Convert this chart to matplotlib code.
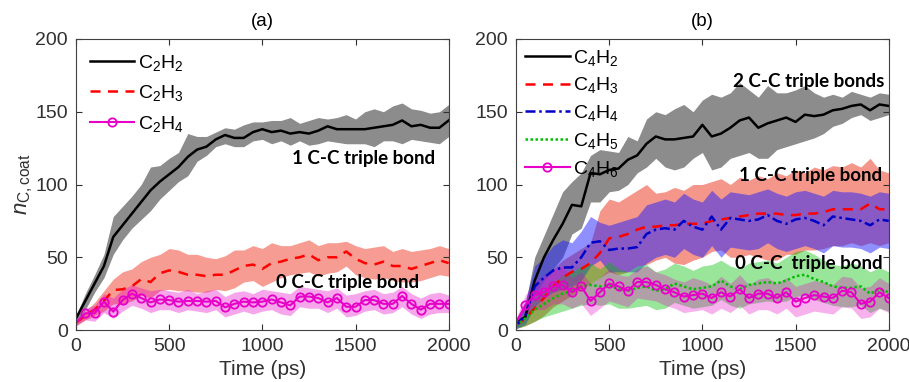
import numpy as np
import matplotlib
matplotlib.use("Agg")
from matplotlib import pyplot as plt

plt.rcParams['font.family'] = ['Liberation Sans', 'DejaVu Sans']
plt.rcParams['mathtext.fontset'] = 'custom'
plt.rcParams['mathtext.rm'] = 'Liberation Sans'
plt.rcParams['mathtext.it'] = 'Liberation Sans:italic'

time_ps = np.arange(0, 2001, 50)

# panel (a)
c2h2_mean = [8, 20, 32, 44, 64, 72, 80, 88, 96, 102, 107, 112, 119, 124, 126, 131, 134, 132, 132, 136,
             138, 136, 137, 135, 136, 135, 137, 140, 138, 138, 138, 138, 139, 140, 141, 144, 140, 141, 139, 139, 144]
c2h2_hi = [10, 25, 38, 52, 78, 85, 92, 100, 112, 113, 118, 122, 135, 133, 133, 136, 139, 138, 141, 143,
           143, 144, 144, 146, 142, 144, 146, 145, 146, 148, 145, 150, 152, 150, 154, 156, 152, 151, 149, 150, 155]
c2h2_lo = [4, 14, 26, 36, 52, 62, 70, 76, 82, 90, 96, 102, 106, 116, 120, 126, 128, 126, 126, 130,
           131, 128, 130, 127, 130, 127, 128, 130, 129, 128, 128, 128, 126, 130, 130, 128, 131, 130, 129, 128, 133]

c2h3_mean = [5, 10, 14, 20, 27.5, 28, 30, 35, 33, 39, 41, 40, 38, 38, 37, 38, 38, 41, 44, 45,
             42, 46, 47, 49, 50, 52, 48, 50, 50, 54, 49, 46, 45, 47, 44, 44, 42, 44, 46, 48, 46]
c2h3_hi = [7, 13, 19, 27, 35, 40, 42, 47, 50, 52, 56, 55, 52, 52, 50, 49, 51, 55, 55, 58,
           56, 60, 58, 58, 60, 62, 58, 60, 60, 61, 58, 56, 57, 58, 54, 56, 54, 55, 56, 58, 56]
c2h3_lo = [3, 7, 10, 13, 18, 18, 20, 24, 22, 27, 28, 27, 27, 26, 26, 28, 27, 29, 33, 34,
           30, 33, 36, 38, 39, 40, 37, 39, 40, 44, 38, 36, 35, 36, 34, 33, 33, 34, 36, 38, 37]

c2h4_mean = [5, 11.5, 11.5, 19.5, 12.6, 20.6, 25, 22, 19, 21, 20.6, 19.5, 20, 20, 19.5, 20, 15.6, 18, 19.5, 19,
             19.5, 21, 19, 17, 23, 23, 22, 19, 22, 16, 16, 20.6, 20.6, 18, 18, 23.4, 18, 14, 18, 18, 18]
c2h4_hi = [7, 15, 17, 25, 22, 28, 31, 29, 27, 28, 27, 26, 28, 25, 27, 28, 23, 26, 27, 25,
           28, 27, 26, 25, 30, 29, 28, 27, 29, 24, 25, 27, 28, 25, 26, 30, 25, 22, 25, 26, 24]
c2h4_lo = [3, 7, 6, 12, 8, 13, 17, 15, 12, 14, 14, 12, 14, 13, 12, 14, 9, 11, 13, 11,
           13, 14, 11, 10, 16, 15, 15, 12, 15, 9, 10, 13, 14, 11, 12, 16, 11, 8, 11, 12, 12]

# panel (b)
c4h2_mean = [5, 9, 34, 50, 62, 73, 86, 85, 108, 107, 110, 111, 117, 120, 128, 133, 131, 131, 132, 133,
             141, 133, 135, 139, 144, 146, 139, 142, 144, 146, 143, 148, 147, 148, 151, 152, 154, 155, 151, 155, 154]
c4h2_hi = [8, 18, 50, 65, 80, 95, 102, 108, 120, 124, 123, 122, 133, 130, 145, 150, 148, 152, 155, 150,
           158, 162, 160, 163, 170, 165, 160, 168, 163, 163, 165, 168, 163, 160, 162, 160, 164, 162, 160, 163, 162]
c4h2_lo = [3, 5, 20, 30, 42, 50, 66, 70, 88, 88, 95, 96, 100, 108, 112, 118, 112, 110, 112, 118,
           122, 110, 112, 118, 120, 122, 118, 118, 124, 126, 128, 130, 132, 135, 140, 142, 146, 148, 144, 146, 148]

c4h3_mean = [3, 8, 15, 22, 30, 36, 40, 42, 46, 53, 63, 64, 66, 69, 71, 71, 72, 72, 73, 73,
             73, 75, 76, 77, 78, 79, 80, 80, 80, 79, 79, 80, 80, 81, 83, 83, 83, 83, 87, 83, 83]
c4h3_hi = [6, 14, 24, 34, 42, 48, 52, 56, 60, 82, 90, 88, 92, 96, 100, 94, 95, 98, 96, 100,
           100, 102, 104, 100, 105, 103, 106, 104, 108, 106, 110, 108, 112, 110, 113, 112, 115, 112, 118, 110, 108]
c4h3_lo = [1, 3, 6, 10, 16, 20, 24, 28, 32, 36, 40, 38, 40, 44, 45, 48, 50, 46, 45, 48,
           50, 54, 55, 50, 50, 52, 50, 48, 48, 52, 52, 55, 55, 56, 58, 58, 60, 58, 60, 58, 60]

c4h4_mean = [3, 10, 30, 36, 41, 43, 43, 50, 60, 61, 55, 56, 56, 57, 66, 69, 70, 69, 75, 71,
             69, 78, 69, 77, 76, 75, 76, 79, 75, 73, 76, 77, 75, 72, 78, 77, 76, 75, 72, 76, 75]
c4h4_hi = [6, 20, 44, 50, 58, 62, 60, 68, 78, 74, 72, 74, 76, 78, 86, 88, 90, 88, 94, 90,
           88, 96, 90, 95, 94, 93, 95, 97, 94, 92, 95, 96, 94, 92, 96, 95, 95, 94, 92, 95, 94]
c4h4_lo = [1, 4, 16, 22, 26, 28, 30, 34, 44, 48, 40, 40, 40, 40, 46, 50, 52, 50, 56, 52,
           50, 58, 50, 57, 56, 55, 56, 60, 56, 54, 56, 58, 56, 53, 58, 57, 57, 56, 53, 57, 56]

c4h5_mean = [3, 8, 14, 18, 22, 25, 27, 30, 31, 30, 31, 28, 27, 29, 30, 27, 28, 32, 30, 28,
             29, 30, 34, 30, 28, 31, 32, 33, 32, 34, 37, 38, 35, 33, 30, 29, 29, 30, 25, 28, 26]
c4h5_hi = [5, 14, 22, 28, 33, 38, 40, 44, 46, 42, 47, 42, 40, 44, 45, 40, 42, 46, 44, 41,
           44, 45, 48, 44, 42, 46, 47, 48, 46, 50, 54, 55, 52, 48, 45, 44, 46, 44, 40, 43, 40]
c4h5_lo = [1, 3, 6, 9, 11, 13, 15, 17, 18, 17, 18, 15, 15, 16, 17, 14, 15, 19, 17, 15,
           16, 17, 21, 17, 15, 18, 19, 20, 19, 20, 23, 24, 21, 19, 17, 16, 16, 17, 12, 15, 13]

c4h6_mean = [5, 17, 24, 26, 30, 31, 26, 30, 20, 26, 32, 30, 27, 33, 33, 31, 28, 26, 23, 24,
             25, 22, 26, 23, 28, 22, 25, 25, 22, 26, 19.5, 22, 24, 23, 22, 27, 26, 18, 19.5, 26, 22]
c4h6_hi = [8, 24, 33, 38, 42, 44, 36, 40, 32, 36, 42, 38, 37, 42, 44, 40, 38, 35, 33, 36,
           34, 31, 37, 32, 38, 31, 35, 36, 32, 36, 30, 32, 34, 33, 31, 37, 36, 29, 30, 36, 32]
c4h6_lo = [2, 10, 14, 14, 18, 18, 15, 18, 10, 15, 20, 18, 16, 22, 21, 20, 17, 15, 12, 13,
           14, 11, 15, 12, 17, 11, 14, 14, 11, 15, 9, 11, 13, 12, 11, 16, 15, 8, 9, 15, 12]

BLUE = '#0000c8'
GREEN = '#00c000'
MAG = '#e600c8'
TXT = '#303030'


def style_axes(ax, title):
    ax.set_xlim(0, 2000)
    ax.set_ylim(0, 200)
    ax.set_xticks([0, 500, 1000, 1500, 2000])
    ax.set_yticks([0, 50, 100, 150, 200])
    ax.tick_params(direction='in', length=4, top=True, right=True, labelsize=14,
                   colors=TXT, pad=6)
    for s in ax.spines.values():
        s.set_color('#404040')
        s.set_linewidth(0.8)
    ax.set_xlabel('Time (ps)', fontsize=15, color=TXT, labelpad=3)
    ax.set_title(title, fontsize=13.5, pad=9)


def label_text(ax, x, y, s):
    ax.text(x, y, s, ha='right', va='center', fontsize=13.5,
            fontweight='bold', family=['Lato', 'DejaVu Sans'])


fig = plt.figure(figsize=(9.09, 3.82), dpi=100)
ax1 = fig.add_axes([0.0836, 0.136, 0.410, 0.762])
ax2 = fig.add_axes([0.5677, 0.136, 0.410, 0.762])

# (a)
ax1.fill_between(time_ps, c2h2_lo, c2h2_hi, color='#8c8c8c', lw=0)
ax1.fill_between(time_ps, c2h3_lo, c2h3_hi, color='#f79c92', lw=0)
ax1.fill_between(time_ps, c2h4_lo, c2h4_hi, color=MAG, alpha=0.35, lw=0)
ax1.plot(time_ps, c2h2_mean, color='k', lw=1.8, label=r'C$_2$H$_2$')
ax1.plot(time_ps, c2h3_mean, color='r', lw=1.8, ls=(0, (4, 3)), label=r'C$_2$H$_3$')
ax1.plot(time_ps, c2h4_mean, color=MAG, lw=1.5, marker='o', ms=6, mfc='none', mew=1.3,
         markevery=range(1, len(time_ps)), label=r'C$_2$H$_4$')
style_axes(ax1, '(a)')
ax1.set_ylabel(r'$n_{\mathrm{C,coat}}$', fontsize=16, color=TXT, labelpad=0)
ax1.legend(loc='upper left', frameon=False, fontsize=14, handlelength=2.3, handletextpad=0.2,
           labelspacing=0.55, borderaxespad=0.3)
label_text(ax1, 1925, 118, '1 C-C triple bond')
label_text(ax1, 1839, 33, '0 C-C triple bond')

# (b)
ax2.fill_between(time_ps, c4h2_lo, c4h2_hi, color='k', alpha=0.45, lw=0)
ax2.fill_between(time_ps, c4h3_lo, c4h3_hi, color='#f5968a', lw=0)
ax2.fill_between(time_ps, c4h4_lo, c4h4_hi, color='#2020ff', alpha=0.5, lw=0)
ax2.fill_between(time_ps, c4h5_lo, c4h5_hi, color=GREEN, alpha=0.4, lw=0)
ax2.fill_between(time_ps, c4h6_lo, c4h6_hi, color=MAG, alpha=0.3, lw=0)
ax2.plot(time_ps, c4h2_mean, color='k', lw=1.8, label=r'C$_4$H$_2$')
ax2.plot(time_ps, c4h3_mean, color='r', lw=1.8, ls=(0, (4, 3)), label=r'C$_4$H$_3$')
ax2.plot(time_ps, c4h4_mean, color=BLUE, lw=1.8, ls=(0, (4, 1.5, 1, 1.5)), label=r'C$_4$H$_4$')
ax2.plot(time_ps, c4h5_mean, color=GREEN, lw=1.8, ls=(0, (1, 1)), label=r'C$_4$H$_5$')
ax2.plot(time_ps, c4h6_mean, color=MAG, lw=1.5, marker='o', ms=6, mfc='none', mew=1.3,
         markevery=range(1, len(time_ps)), label=r'C$_4$H$_6$')
style_axes(ax2, '(b)')
ax2.legend(loc='upper left', frameon=False, fontsize=14, handlelength=2.3, handletextpad=0.2,
           labelspacing=0.4, borderaxespad=0.05)
label_text(ax2, 1979, 171, '2 C-C triple bonds')
label_text(ax2, 1963, 106, '1 C-C triple bond')
label_text(ax2, 1968, 46, '0 C-C  triple bond')

fig.savefig('out.png', dpi=100)
